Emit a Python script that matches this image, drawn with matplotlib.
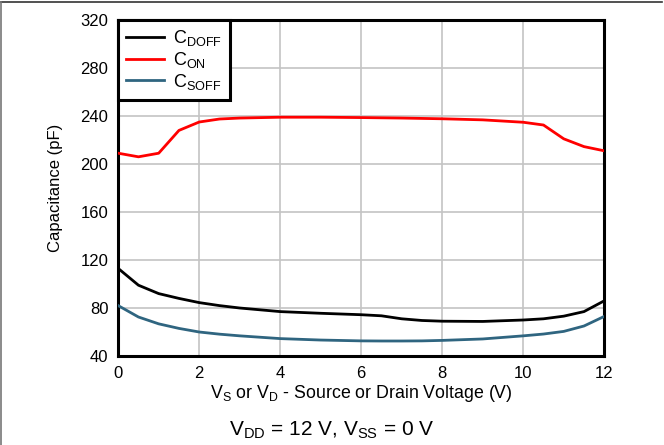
import matplotlib.pyplot as plt
from matplotlib.lines import Line2D

plt.rcParams['font.family'] = ['Liberation Sans', 'DejaVu Sans']
plt.rcParams['mathtext.fontset'] = 'custom'
plt.rcParams['mathtext.rm'] = 'Liberation Sans'
plt.rcParams['mathtext.it'] = 'Liberation Sans'

# capacitance vs source/drain voltage
v = [0, 0.5, 1, 1.5, 2, 2.5, 3, 4, 5, 6, 6.5, 7, 7.5, 8, 9, 10, 10.5, 11, 11.5, 12]
c_doff = [113, 99, 92, 88, 84.5, 82, 80, 77, 75.6, 74.4, 73.5, 71, 69.6, 69, 68.8,
          70, 71, 73.2, 77, 86]
c_on = [209, 206, 209, 228, 235, 237.5, 238.3, 239, 239, 238.7, 238.5, 238.3, 238,
        237.7, 236.8, 234.8, 232.5, 221, 214.5, 211]
c_soff = [82, 72.5, 66.8, 63, 60, 58.2, 56.8, 54.5, 53.3, 52.6, 52.5, 52.5, 52.6,
          53, 54.2, 56.8, 58.3, 60.5, 65, 73]

fig = plt.figure(figsize=(6.64, 4.45), dpi=100)
ax = fig.add_axes([0.178, 0.2, 0.732, 0.755])

ax.plot(v, c_doff, color='black', lw=2, label=r'C$_{\mathrm{DOFF}}$', zorder=3)
ax.plot(v, c_on, color='#ff0000', lw=2, label=r'C$_{\mathrm{ON}}$', zorder=3)
ax.plot(v, c_soff, color='#2f6580', lw=2, label=r'C$_{\mathrm{SOFF}}$', zorder=3)

ax.set_xlim(0, 12)
ax.set_ylim(40, 320)
ax.set_xticks(range(0, 13, 2))
ax.set_yticks(range(40, 321, 40))
ax.tick_params(length=0, labelsize=12, pad=7)
ax.grid(color='#c4c4c4', lw=1.2)
ax.set_axisbelow(True)
for s in ax.spines.values():
    s.set_linewidth(2.2)

ax.set_xlabel(r'V$_{\mathrm{S}}$ or V$_{\mathrm{D}}$ - Source or Drain Voltage (V)',
              fontsize=12.8, labelpad=2)
ax.set_ylabel('Capacitance (pF)', fontsize=12, labelpad=13)

leg = ax.legend(loc='upper left', bbox_to_anchor=(0, 1), borderaxespad=0,
                fancybox=False, framealpha=1, edgecolor='black', fontsize=13,
                handlelength=2.1, handletextpad=0.5, labelspacing=0.1,
                borderpad=0.45)
leg.get_frame().set_linewidth(2.2)

fig.text(0.5, 0.02, r'V$_{\mathrm{DD}}$ = 12 V, V$_{\mathrm{SS}}$ = 0 V',
         ha='center', fontsize=15)

# thin frame lines along the top and left of the figure
fig.add_artist(Line2D([0.001, 0.997], [0.995, 0.995], color='#333333', lw=1.2,
                      transform=fig.transFigure))
fig.add_artist(Line2D([0.001, 0.001], [0, 0.995], color='#777777', lw=1.2,
                      transform=fig.transFigure))

fig.savefig('out.png', dpi=100)
